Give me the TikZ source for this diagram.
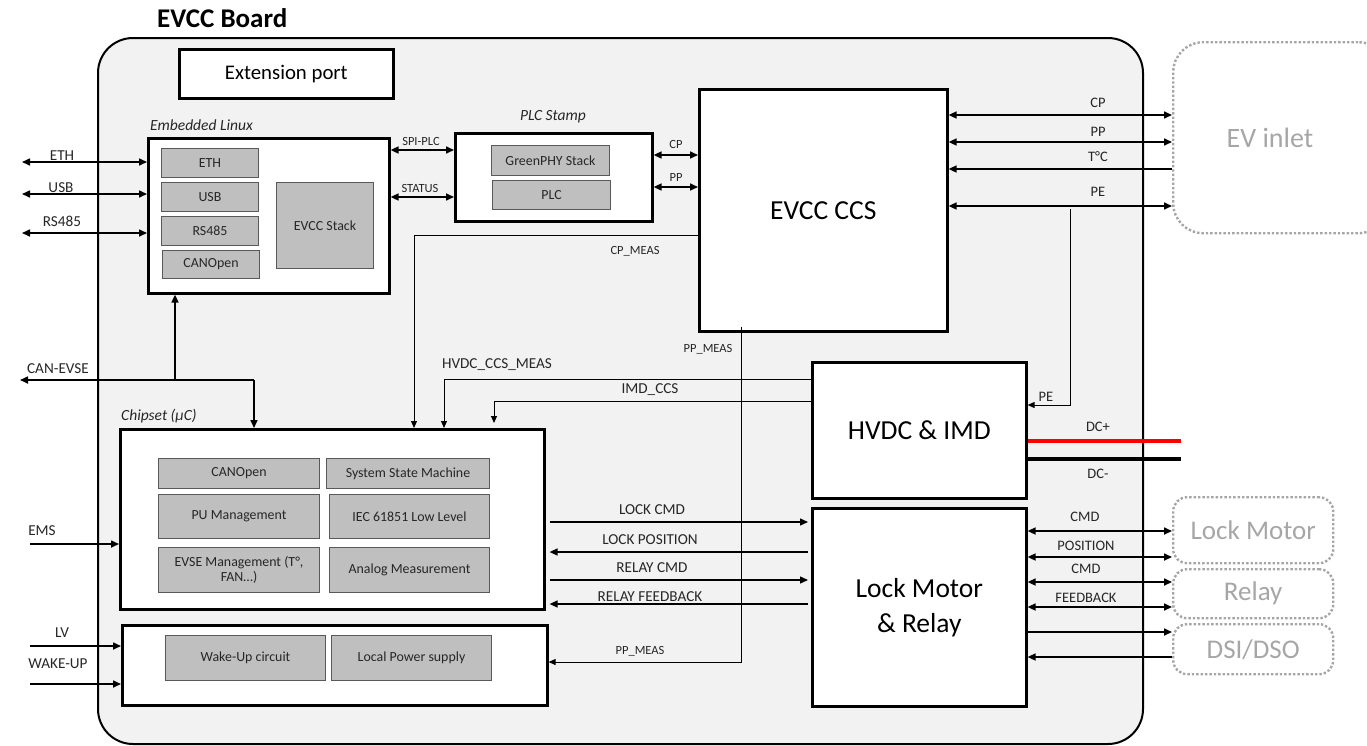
\documentclass[tikz,border=0pt]{standalone}
\usepackage{fontspec}
\setmainfont{Carlito}
\usetikzlibrary{arrows.meta,calc}
\definecolor{bg}{HTML}{F2F2F2}
\definecolor{gbox}{HTML}{BFBFBF}
\definecolor{gline}{HTML}{595959}
\definecolor{ghost}{HTML}{A6A6A6}
\definecolor{txt}{HTML}{262626}
\begin{document}
\begin{tikzpicture}[x=1pt,y=-1pt,
  blk/.style={draw,line width=2.6pt,fill=white,inner sep=0pt,anchor=north west},
  sub/.style={draw=gline,line width=1pt,fill=gbox,inner sep=0pt,anchor=north west,
    font=\fontsize{13.9}{15}\selectfont,text=txt,align=center},
  ghostbox/.style={draw=ghost,line width=2.4pt,dotted,rounded corners=14pt,inner sep=0pt,
    anchor=north west,text=ghost,font=\fontsize{27}{30}\selectfont},
  lab/.style={font=\fontsize{15.2}{17}\selectfont,text=txt,inner sep=1pt},
  slab/.style={font=\fontsize{12.5}{14}\selectfont,text=txt,inner sep=1pt},
  rlab/.style={font=\fontsize{14.5}{16}\selectfont,text=txt,inner sep=1pt},
  ital/.style={font=\itshape\fontsize{15.5}{17}\selectfont,text=txt,inner sep=1pt},
  big/.style={font=\fontsize{27.5}{33}\selectfont,align=center},
  sig/.style={line width=1.6pt,-{Triangle[length=8pt,width=7pt]}},
  dsig/.style={line width=1.6pt,{Triangle[length=8pt,width=7pt]}-{Triangle[length=8pt,width=7pt]}},
  thin/.style={line width=1pt,-{Triangle[length=7pt,width=6pt]}},
  mid/.style={line width=1.3pt,-{Triangle[length=8pt,width=7pt]}}
]
\useasboundingbox (0,0) rectangle (1367,745);

% board
\node[draw,line width=2pt,fill=bg,rounded corners=35pt,minimum width=1045pt,minimum height=706pt,anchor=north west,inner sep=0pt] (board) at (97,37) {};
\node[font=\bfseries\fontsize{27}{30}\selectfont,anchor=west,inner sep=0pt] (title) at (157,18) {EVCC Board};

% external ghost boxes
\node[ghostbox,rounded corners=30pt,minimum width=215pt,minimum height=191pt] (inlet) at (1172,41) {};
\node[text=ghost,font=\fontsize{28}{32}\selectfont] (inlett) at (1270,138) {EV inlet};
\node[ghostbox,minimum width=160pt,minimum height=66pt] (lmot) at (1172,496) {Lock Motor};
\node[ghostbox,minimum width=160pt,minimum height=49pt] (rel) at (1172,568) {Relay};
\node[ghostbox,minimum width=160pt,minimum height=50pt] (dsi) at (1172,623) {DSI/DSO};

% blocks
\node[blk,minimum width=214pt,minimum height=49pt,font=\fontsize{20.8}{24}\selectfont] (ext) at (178,48) {Extension port};

\node[blk,minimum width=241pt,minimum height=155pt] (lin) at (147,137) {};
\node[ital,anchor=west] (linl) at (149,125) {Embedded Linux};
\node[sub,minimum width=97pt,minimum height=29pt] (leth) at (161,148) {ETH};
\node[sub,minimum width=97pt,minimum height=29pt] (lusb) at (161,182) {USB};
\node[sub,minimum width=97pt,minimum height=29pt] (lrs) at (161,216) {RS485};
\node[sub,minimum width=97pt,minimum height=28pt] (lcan) at (162,250) {CANOpen};
\node[sub,minimum width=97pt,minimum height=86pt] (lstk) at (276,182) {EVCC Stack};

\node[blk,minimum width=197pt,minimum height=88pt] (plc) at (454,132) {};
\node[ital] (plcl) at (553,117) {PLC Stamp};
\node[sub,minimum width=118pt,minimum height=30pt] (gphy) at (491,145) {GreenPHY Stack};
\node[sub,minimum width=118pt,minimum height=29pt] (plcs) at (492,180) {PLC};

\node[blk,minimum width=248pt,minimum height=242pt,big] (ccs) at (698,88) {EVCC CCS};
\node[blk,minimum width=214pt,minimum height=136pt,big] (hv) at (811,361) {HVDC \& IMD};
\node[blk,minimum width=214pt,minimum height=198pt,big,font=\fontsize{27.5}{35}\selectfont] (lm) at (811,507) {Lock Motor\\\& Relay};

\node[blk,minimum width=424pt,minimum height=180pt] (chip) at (119,428) {};
\node[ital,anchor=west] (chipl) at (120,416) {Chipset (μC)};
\node[sub,minimum width=161pt,minimum height=30pt] (ccan) at (158,458) {CANOpen};
\node[sub,minimum width=163pt,minimum height=30pt] (cssm) at (326,458) {System State Machine};
\node[sub,minimum width=161pt,minimum height=44pt] (cpu) at (158,494) {PU Management};
\node[sub,minimum width=160pt,minimum height=44pt] (ciec) at (329,494) {IEC 61851 Low Level};
\node[sub,minimum width=161pt,minimum height=45pt] (cevse) at (158,547) {EVSE Management (T°,\\FAN…)};
\node[sub,minimum width=160pt,minimum height=45pt] (cana) at (329,547) {Analog Measurement};

\node[blk,minimum width=425pt,minimum height=80pt] (pw) at (121,624) {};
\node[sub,minimum width=160pt,minimum height=45pt] (wake) at (165,635) {Wake-Up circuit};
\node[sub,minimum width=160pt,minimum height=45pt] (lps) at (331,635) {Local Power supply};

% ---- left external connectors
\coordinate (ethL) at (22,162);
\coordinate (usbL) at (22,194);
\coordinate (rsL) at (22,233);
\draw[dsig] (ethL) -- (lin.west |- ethL);
\draw[dsig] (usbL) -- (lin.west |- usbL);
\draw[dsig] (rsL) -- (lin.west |- rsL);
\node[lab] at (62,156) {ETH};
\node[lab] at (61,188) {USB};
\node[lab] at (62,221) {RS485};

\coordinate (canL) at (20,380);
\coordinate (jA) at (175,380);
\coordinate (jB) at (254,380);
\draw[sig] (jB) -- (canL);
\draw[sig] (jA) -- (lin.south -| jA);
\draw[sig] (jB) -- (chip.north -| jB);
\node[lab] at (58,369) {CAN-EVSE};

\coordinate (emsL) at (30,544);
\draw[sig] (emsL) -- (chip.west |- emsL);
\node[lab] at (42,531) {EMS};
\coordinate (lvL) at (30,646);
\coordinate (wkL) at (30,684);
\draw[sig] (lvL) -- (pw.west |- lvL);
\draw[sig] (wkL) -- (pw.west |- wkL);
\node[lab] at (62,633) {LV};
\node[lab] at (58,664) {WAKE-UP};

% ---- Linux <-> PLC
\coordinate (ySPI) at (0,150);
\coordinate (ySTA) at (0,197);
\draw[dsig] (lin.east |- ySPI) -- (plc.west |- ySPI);
\draw[dsig] (lin.east |- ySTA) -- (plc.west |- ySTA);
\node[slab] at (421,141) {SPI-PLC};
\node[slab] at (420,188) {STATUS};

% ---- PLC <-> CCS
\coordinate (yCPa) at (0,155);
\coordinate (yPPa) at (0,187);
\draw[dsig] (plc.east |- yCPa) -- (ccs.west |- yCPa);
\draw[dsig] (plc.east |- yPPa) -- (ccs.west |- yPPa);
\node[slab] at (676,144) {CP};
\node[slab] at (676,177) {PP};

% ---- CCS <-> EV inlet
\coordinate (yCP) at (0,115);
\coordinate (yPP) at (0,142);
\coordinate (yT) at (0,169);
\coordinate (yPE) at (0,206);
\draw[dsig] (ccs.east |- yCP) -- (inlet.west |- yCP);
\draw[dsig] (ccs.east |- yPP) -- (inlet.west |- yPP);
\draw[sig] (inlet.west |- yT) -- (ccs.east |- yT);
\draw[dsig] (ccs.east |- yPE) -- (inlet.west |- yPE);
\node[rlab] at (1098,103) {CP};
\node[rlab] at (1098,132) {PP};
\node[rlab] at (1098,157) {T°C};
\node[rlab] at (1098,192) {PE};

\coordinate (peJ) at (1070,209);
\coordinate (yPE2) at (0,405);
\draw[thin] (peJ) |- (hv.east |- yPE2);
\node[rlab] at (1046,397) {PE};

% ---- measurement lines
\coordinate (yCPM) at (0,235);
\coordinate (xCPM) at (414,0);
\draw[thin] (ccs.west |- yCPM) -| (chip.north -| xCPM);
\node[slab] at (635,251) {CP\_MEAS};

\coordinate (yHM) at (0,379);
\coordinate (xHM) at (444,0);
\draw[thin] (hv.west |- yHM) -| (chip.north -| xHM);
\node[lab] at (497,365) {HVDC\_CCS\_MEAS};

\coordinate (yIMD) at (0,401);
\coordinate (xIMD) at (494,0);
\draw[thin] (hv.west |- yIMD) -| ([yshift=5pt]chip.north -| xIMD);
\node[lab] at (650,390) {IMD\_CCS};

\coordinate (xPP) at (741,0);
\coordinate (yPPM) at (0,662);
\draw[thin] ([yshift=6pt]ccs.south -| xPP) |- (pw.east |- yPPM);
\node[slab] at (708,349) {PP\_MEAS};
\node[slab] at (640,651) {PP\_MEAS};

% ---- chipset <-> lock motor
\coordinate (yLC) at (0,522);
\coordinate (yLP) at (0,552);
\coordinate (yRC) at (0,580);
\coordinate (yRF) at (0,604);
\draw[mid,shorten <=4pt,shorten >=3pt] (chip.east |- yLC) -- (lm.west |- yLC);
\draw[mid,shorten <=3pt,shorten >=4pt] (lm.west |- yLP) -- (chip.east |- yLP);
\draw[mid,shorten <=4pt,shorten >=3pt] (chip.east |- yRC) -- (lm.west |- yRC);
\draw[mid,shorten <=3pt,shorten >=4pt] (lm.west |- yRF) -- (chip.east |- yRF);
\node[lab] at (652,510) {LOCK CMD};
\node[lab] at (650,540) {LOCK POSITION};
\node[lab] at (652,568) {RELAY CMD};
\node[lab] at (650,597) {RELAY FEEDBACK};

% ---- HVDC outputs
\coordinate (dcp) at (1181,441);
\coordinate (dcm) at (1181,459);
\draw[red,line width=3.2pt] (hv.east |- dcp) -- (dcp);
\draw[black,line width=3.2pt] (hv.east |- dcm) -- (dcm);
\node[rlab] at (1098,427) {DC+};
\node[rlab] at (1098,474) {DC-};

% ---- lock motor <-> outside
\coordinate (yA) at (0,531);
\coordinate (yB) at (0,557);
\coordinate (yC) at (0,582);
\coordinate (yD) at (0,607);
\coordinate (yE) at (0,632);
\coordinate (yF) at (0,657);
\draw[dsig] (lm.east |- yA) -- (lmot.west |- yA);
\draw[dsig] (lm.east |- yB) -- (lmot.west |- yB);
\draw[dsig] (lm.east |- yC) -- (rel.west |- yC);
\draw[dsig] (lm.east |- yD) -- (rel.west |- yD);
\draw[sig] (lm.east |- yE) -- (dsi.west |- yE);
\draw[sig] (dsi.west |- yF) -- (lm.east |- yF);
\node[rlab] at (1085,517) {CMD};
\node[rlab] at (1086,546) {POSITION};
\node[rlab] at (1086,569) {CMD};
\node[rlab] at (1086,598) {FEEDBACK};
\end{tikzpicture}
\end{document}
